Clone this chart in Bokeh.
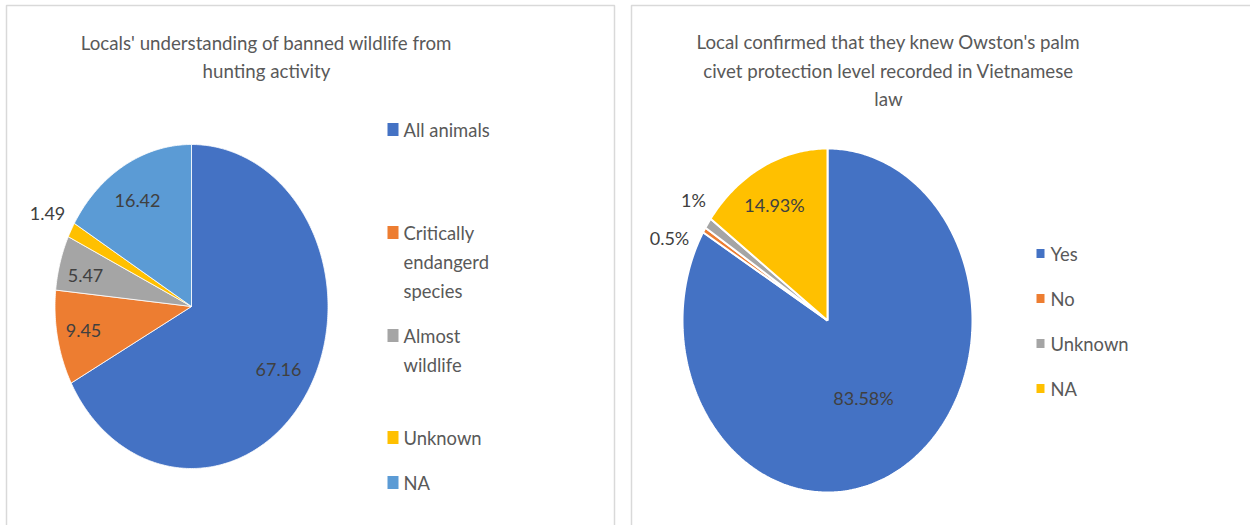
import numpy as np
from bokeh.plotting import figure
from bokeh.models import Range1d, ColumnDataSource
from bokeh.core.properties import value
from bokeh.embed import file_html
from bokeh.resources import INLINE

# ---- data ----
left_title = ["Locals' understanding of banned wildlife from", "hunting activity"]
left_categories = ["All animals", "Critically endangerd species", "Almost wildlife", "Unknown", "NA"]
left_values = [67.16, 9.45, 5.47, 1.49, 16.42]
left_labels = ["67.16", "9.45", "5.47", "1.49", "16.42"]
left_colors = ["#4472C4", "#ED7D31", "#A5A5A5", "#FFC000", "#5B9BD5"]

right_title = ["Local confirmed that they knew Owston's palm",
               "civet protection level recorded in Vietnamese", "law"]
right_categories = ["Yes", "No", "Unknown", "NA"]
right_values = [83.58, 0.5, 1.0, 14.93]
right_labels = ["83.58%", "0.5%", "1%", "14.93%"]
right_colors = ["#4472C4", "#ED7D31", "#A5A5A5", "#FFC000"]

FONT = "Lato"
TXT = "#595959"
LBL = "#404040"

W, H = 1250, 525
p = figure(width=W, height=H, output_backend="svg", toolbar_location=None,
           x_range=Range1d(0, W), y_range=Range1d(H, 0), min_border=0)
p.axis.visible = False
p.grid.visible = False
p.outline_line_color = None
p.background_fill_color = "white"

# panel borders
p.quad(left=[6, 631], right=[614, 1262], top=[5, 5], bottom=[540, 540],
       fill_color=None, line_color="#D9D9D9", line_width=1.5)


def pie(values, colors, cx, cy, rx, ry, lw):
    vals = np.array(values, dtype=float)
    total = vals.sum()
    cum = np.concatenate([[0], np.cumsum(vals)]) / total
    xs, ys = [], []
    for i in range(len(vals)):
        a0 = np.pi / 2 - 2 * np.pi * cum[i]
        a1 = np.pi / 2 - 2 * np.pi * cum[i + 1]
        n = max(4, int(abs(a1 - a0) * 80))
        t = np.linspace(a0, a1, n)
        xs.append(list(np.concatenate([[cx], cx + rx * np.cos(t)])))
        ys.append(list(np.concatenate([[cy], cy - ry * np.sin(t)])))
    src = ColumnDataSource(dict(xs=xs, ys=ys, color=colors))
    p.patches("xs", "ys", source=src, fill_color="color", line_color="white", line_width=lw)


pie(left_values, left_colors, 191, 306, 136.5, 162, 0.8)
pie(right_values, right_colors, 827, 320, 145, 172, 2)

# titles
p.text(x=[266, 266], y=[42, 70], text=left_title, text_align="center", text_baseline="middle",
       text_font=value(FONT), text_font_size="18.7px", text_color=TXT)
p.text(x=[888, 888, 888], y=[41, 70, 98], text=right_title, text_align="center",
       text_baseline="middle", text_font=value(FONT), text_font_size="18.7px", text_color=TXT)

# data labels
p.text(x=[278, 83, 85, 47, 137], y=[369, 330, 275, 213, 200], text=left_labels,
       text_align="center", text_baseline="middle", text_font=value(FONT),
       text_font_size="18px", text_color=LBL)
p.text(x=[863, 669, 693, 774], y=[397, 237, 199, 204], text=right_labels,
       text_align="center", text_baseline="middle", text_font=value(FONT),
       text_font_size="18px", text_color=LBL)

# left legend
leg_y = [129, 232, 335, 437, 482]
p.rect(x=[392.5] * 5, y=leg_y, width=11, height=13, fill_color=left_colors, line_color=None)
left_leg_lines = [["All animals"], ["Critically", "endangerd", "species"], ["Almost", "wildlife"],
                  ["Unknown"], ["NA"]]
lx, ly, lt = [], [], []
for y0, lines in zip(leg_y, left_leg_lines):
    for k, s in enumerate(lines):
        lx.append(403)
        ly.append(y0 + k * 29)
        lt.append(s)
p.text(x=lx, y=ly, text=lt, text_align="left", text_baseline="middle",
       text_font=value(FONT), text_font_size="18.4px", text_color=TXT)

# right legend
r_leg_y = [253, 298, 343, 388]
p.rect(x=[1040] * 4, y=r_leg_y, width=8, height=9, fill_color=right_colors, line_color=None)
p.text(x=[1050] * 4, y=r_leg_y, text=right_categories, text_align="left", text_baseline="middle",
       text_font=value(FONT), text_font_size="18.4px", text_color=TXT)

open("out.html", "w").write(file_html(p, INLINE))
